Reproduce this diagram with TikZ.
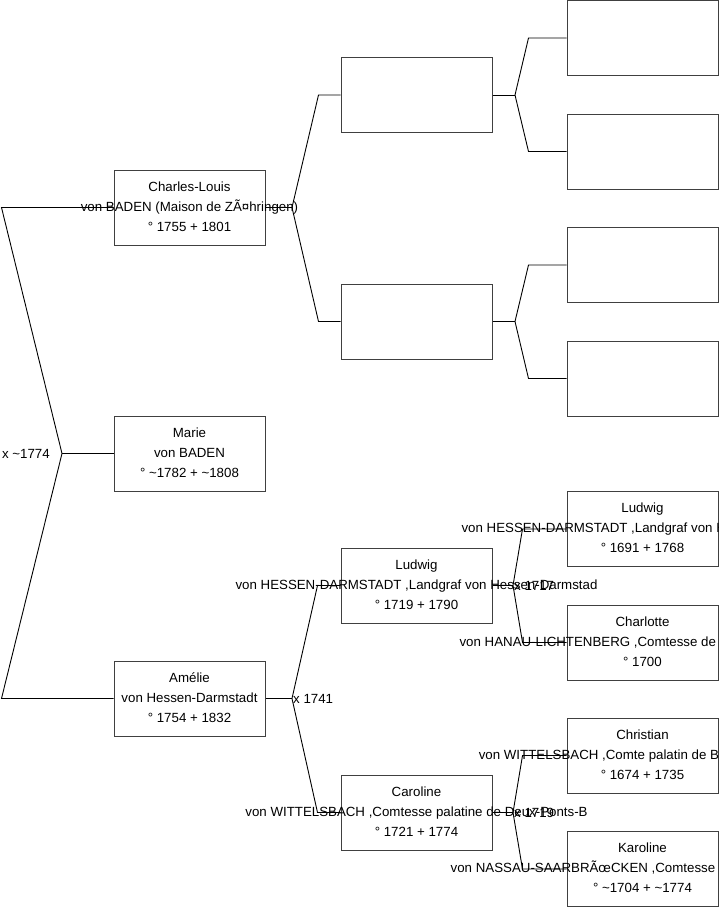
\documentclass[tikz,border=0pt]{standalone}
\usepackage{fontspec}
\setmainfont{Liberation Sans}
\usetikzlibrary{positioning}

\begin{document}
\begin{tikzpicture}[
    x=1pt, y=-1pt,
    every node/.style={font=\fontsize{13.3}{20}\selectfont, align=center},
    person_box/.style={draw=black!75, line width=1pt, minimum width=151pt, minimum height=75pt, inner sep=0pt},
    name_text/.style={inner sep=0pt, yshift=1pt},
    wed_text/.style={inner sep=1pt},
    link_line/.style={line width=0.9pt, black}
]
  \useasboundingbox[fill=white] (0,0) rectangle (719,908);

  % Generation 0
  \node[person_box] (marie) at (189.5,453.5) {};
  \node[name_text] (marie_name) at (marie) {Marie\\von BADEN\\° \textasciitilde 1782 + \textasciitilde 1808};

  % Generation 1 (parents)
  \node[person_box] (charles_louis) at (189.5,207.5) {};
  \node[name_text] (charles_louis_name) at (charles_louis) {Charles-Louis\\von BADEN (Maison de ZÃ¤hringen)\\° 1755 + 1801};
  \node[person_box] (amelie) at (189.5,698.5) {};
  \node[name_text] (amelie_name) at (amelie) {Amélie\\von Hessen-Darmstadt\\° 1754 + 1832};

  % Generation 2 (grandparents)
  \node[person_box] (pat_father) at (416.5,95) {};
  \node[person_box] (pat_mother) at (416.5,321.5) {};
  \node[person_box] (mat_father) at (416.5,585.5) {};
  \node[name_text] (mat_father_name) at (mat_father) {Ludwig\\von HESSEN-DARMSTADT ,Landgraf von Hessen-Darmstad\\° 1719 + 1790};
  \node[person_box] (mat_mother) at (416.5,812.5) {};
  \node[name_text] (mat_mother_name) at (mat_mother) {Caroline\\von WITTELSBACH ,Comtesse palatine de Deux-Ponts-B\\° 1721 + 1774};

  % Generation 3 (great-grandparents)
  \node[person_box] (pf_father) at (642.5,38) {};
  \node[person_box] (pf_mother) at (642.5,151.5) {};
  \node[person_box] (pm_father) at (642.5,265) {};
  \node[person_box] (pm_mother) at (642.5,378.5) {};
  \node[person_box] (mf_father) at (642.5,529) {};
  \node[name_text] (mf_father_name) at (mf_father) {Ludwig\\von HESSEN-DARMSTADT ,Landgraf von Hessen-Darmstad\\° 1691 + 1768};
  \node[person_box] (mf_mother) at (642.5,642.5) {};
  \node[name_text] (mf_mother_name) at (mf_mother) {Charlotte\\von HANAU-LICHTENBERG ,Comtesse de Hanau-Lichtenber\\° 1700};
  \node[person_box] (mm_father) at (642.5,755.5) {};
  \node[name_text] (mm_father_name) at (mm_father) {Christian\\von WITTELSBACH ,Comte palatin de Birkenfeld-Bisch\\° 1674 + 1735};
  \node[person_box] (mm_mother) at (642.5,869) {};
  \node[name_text] (mm_mother_name) at (mm_mother) {Karoline\\von NASSAU-SAARBRÃœCKEN ,Comtesse de Nassau-Saarbru\\° \textasciitilde 1704 + \textasciitilde 1774};

  % Fork points
  \coordinate (marie_fork) at (62,453.5);
  \coordinate (charles_louis_fork) at (292,207.5);
  \coordinate (amelie_fork) at (292,698.5);
  \coordinate (pat_father_fork) at (515,95);
  \coordinate (pat_mother_fork) at (515,321.5);
  \coordinate (mat_father_fork) at (513,585.5);
  \coordinate (mat_mother_fork) at (513,812.5);

  % Links
  \draw[link_line] (marie.west) -- (marie_fork);
  \draw[link_line] (marie_fork) -- ([xshift=-112pt]charles_louis.west) -- (charles_louis.west);
  \draw[link_line] (marie_fork) -- ([xshift=-112pt]amelie.west) -- (amelie.west);

  \draw[link_line] (charles_louis.east) -- (charles_louis_fork);
  \draw[link_line] (charles_louis_fork) -- ([xshift=-22pt]pat_father.west) -- (pat_father.west);
  \draw[link_line] (charles_louis_fork) -- ([xshift=-22pt]pat_mother.west) -- (pat_mother.west);

  \draw[link_line] (amelie.east) -- (amelie_fork);
  \draw[link_line] (amelie_fork) -- ([xshift=-23pt]mat_father.west) -- (mat_father.west);
  \draw[link_line] (amelie_fork) -- ([xshift=-23pt]mat_mother.west) -- (mat_mother.west);

  \draw[link_line] (pat_father.east) -- (pat_father_fork);
  \draw[link_line] (pat_father_fork) -- ([xshift=-38pt]pf_father.west) -- (pf_father.west);
  \draw[link_line] (pat_father_fork) -- ([xshift=-38pt]pf_mother.west) -- (pf_mother.west);

  \draw[link_line] (pat_mother.east) -- (pat_mother_fork);
  \draw[link_line] (pat_mother_fork) -- ([xshift=-38pt]pm_father.west) -- (pm_father.west);
  \draw[link_line] (pat_mother_fork) -- ([xshift=-38pt]pm_mother.west) -- (pm_mother.west);

  \draw[link_line] (mat_father.east) -- (mat_father_fork);
  \draw[link_line] (mat_father_fork) -- ([xshift=-44pt]mf_father.west) -- (mf_father.west);
  \draw[link_line] (mat_father_fork) -- ([xshift=-44pt]mf_mother.west) -- (mf_mother.west);

  \draw[link_line] (mat_mother.east) -- (mat_mother_fork);
  \draw[link_line] (mat_mother_fork) -- ([xshift=-44pt]mm_father.west) -- (mm_father.west);
  \draw[link_line] (mat_mother_fork) -- ([xshift=-44pt]mm_mother.west) -- (mm_mother.west);

  % Marriage years
  \node[wed_text, left=11pt of marie_fork] (marie_wed) {x \textasciitilde 1774};
  \node[wed_text, right=0pt of amelie_fork] (amelie_wed) {x 1741};
  \node[wed_text, right=0pt of mat_father_fork] (mat_father_wed) {x 1717};
  \node[wed_text, right=0pt of mat_mother_fork] (mat_mother_wed) {x 1719};

\end{tikzpicture}
\end{document}
